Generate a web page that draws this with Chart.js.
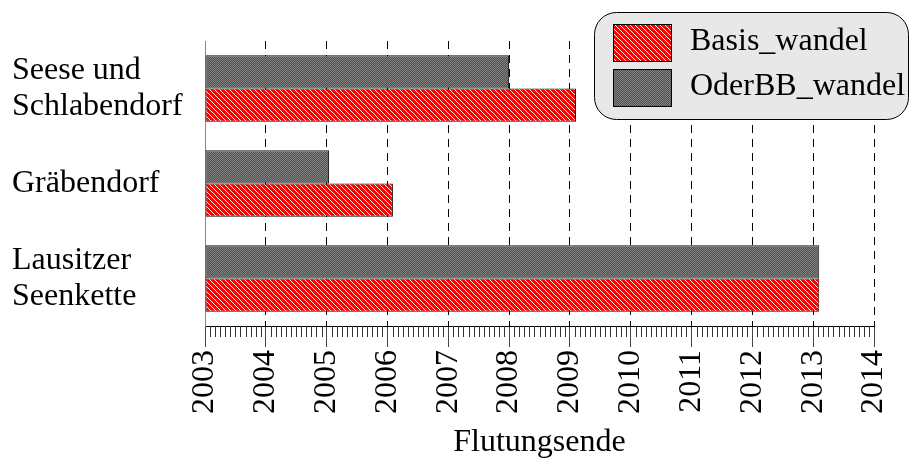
<!DOCTYPE html>
<html>
<head>
<meta charset="utf-8">
<script src="https://cdn.jsdelivr.net/npm/chart.js@4"></script>
<style>
  body { margin: 0; background: #fff; }
  #wrap { position: relative; width: 910px; height: 459px; }
</style>
</head>
<body>
<div id="wrap"><canvas id="chart"></canvas></div>
<script>
// Seen (Tagebauseen) und Jahr des Flutungsendes
const categories = [['Seese und', 'Schlabendorf'], 'Gräbendorf', ['Lausitzer', 'Seenkette']];
const oderbbWandel = [2008.0, 2005.04, 2013.1];
const basisWandel = [2009.1, 2006.09, 2013.1];
const seriesNames = ['Basis_wandel', 'OderBB_wandel'];
const yearMin = 2003;
const yearMax = 2014;

const FONT = "'Liberation Serif', 'Times New Roman', serif";

// kleine Kacheln für die Schraffur
function makePattern(size, pick) {
  const c = document.createElement('canvas');
  c.width = size;
  c.height = size;
  const g = c.getContext('2d');
  const img = g.createImageData(size, size);
  for (let y = 0; y < size; y++) {
    for (let x = 0; x < size; x++) {
      const [r, gg, b] = pick(x, y);
      const i = (y * size + x) * 4;
      img.data[i] = r; img.data[i + 1] = gg; img.data[i + 2] = b; img.data[i + 3] = 255;
    }
  }
  g.putImageData(img, 0, 0);
  return g.createPattern(c, 'repeat');
}

const ctx = document.getElementById('chart').getContext('2d');
const redHatch = makePattern(5, (x, y) => ((x - y + 10) % 5 === 0 ? [255, 235, 235] : [255, 0, 0]));
const grayHatch = makePattern(2, (x, y) => ((x + y) % 2 === 0 ? [128, 128, 128] : [82, 82, 82]));

// Monats-Striche unter der Achse
const minorTicks = {
  id: 'minorTicks',
  afterDraw(chart) {
    const xs = chart.scales.x;
    const c = chart.ctx;
    const y0 = chart.chartArea.bottom;
    c.save();
    c.strokeStyle = '#333';
    c.lineWidth = 1;
    c.beginPath();
    for (let yr = yearMin; yr < yearMax; yr++) {
      for (let m = 1; m < 12; m++) {
        const px = Math.round(xs.getPixelForValue(yr + m / 12)) + 0.5;
        c.moveTo(px, y0);
        c.lineTo(px, y0 + 11);
      }
    }
    c.stroke();
    c.restore();
  }
};

// Legende im abgerundeten Kasten
const boxLegend = {
  id: 'boxLegend',
  afterDraw(chart) {
    const c = chart.ctx;
    const left = 594, top = 12, w = 314, h = 107, r = 22;
    c.save();
    c.beginPath();
    c.roundRect(left + 0.5, top + 0.5, w, h, r);
    c.fillStyle = '#e8e8e8';
    c.fill();
    c.strokeStyle = '#000';
    c.lineWidth = 1;
    c.stroke();

    const fills = [redHatch, grayHatch];
    c.font = '32px ' + FONT;
    c.textBaseline = 'middle';
    seriesNames.forEach((name, i) => {
      const sy = top + 12 + i * 45;
      c.fillStyle = fills[i];
      c.fillRect(613, sy, 58, 37);
      c.strokeStyle = '#000';
      c.strokeRect(613.5, sy + 0.5, 58, 37);
      c.fillStyle = '#000';
      c.fillText(name, 690, sy + 18);
    });
    c.restore();
  }
};

new Chart(ctx, {
  type: 'bar',
  data: {
    labels: categories,
    datasets: [
      {
        label: seriesNames[1],
        data: oderbbWandel,
        base: yearMin,
        backgroundColor: grayHatch,
        borderColor: '#111',
        borderWidth: 1,
        borderSkipped: false
      },
      {
        label: seriesNames[0],
        data: basisWandel,
        base: yearMin,
        backgroundColor: redHatch,
        borderColor: '#111',
        borderWidth: 1,
        borderSkipped: false
      }
    ]
  },
  options: {
    indexAxis: 'y',
    responsive: true,
    maintainAspectRatio: false,
    animation: false,
    layout: {padding: {left: 12, right: 36, top: 41, bottom: 0}},
    datasets: {bar: {categoryPercentage: 0.7, barPercentage: 1.0}},
    scales: {
      x: {
        type: 'linear',
        min: yearMin,
        max: yearMax,
        afterFit: (scale) => {
          scale.height = 133;
          scale.paddingLeft = 0;
          scale.paddingRight = 0;
        },
        grid: {
          color: (c) => (c.tick && c.tick.value === yearMin ? 'rgba(0,0,0,0)' : '#000'),
          tickBorderDash: [],
          tickColor: '#444',
          tickLength: 21,
          drawOnChartArea: true
        },
        border: {display: true, color: '#000', width: 1, dash: [8, 6]},
        ticks: {
          stepSize: 1,
          minRotation: 90,
          maxRotation: 90,
          padding: 3,
          color: '#000',
          font: {family: FONT, size: 32},
          callback: (v) => String(v)
        },
        title: {
          display: true,
          text: 'Flutungsende',
          color: '#000',
          font: {family: FONT, size: 32, lineHeight: 1.0},
          padding: {top: 0, bottom: 0}
        }
      },
      y: {
        afterFit: (scale) => { scale.width = 193; },
        grid: {display: false},
        border: {display: true, color: '#888', width: 1},
        ticks: {
          crossAlign: 'far',
          color: '#000',
          font: {family: FONT, size: 32, lineHeight: 1.15}
        }
      }
    },
    plugins: {
      legend: {display: false},
      tooltip: {enabled: false}
    }
  },
  plugins: [minorTicks, boxLegend]
});
</script>
</body>
</html>
